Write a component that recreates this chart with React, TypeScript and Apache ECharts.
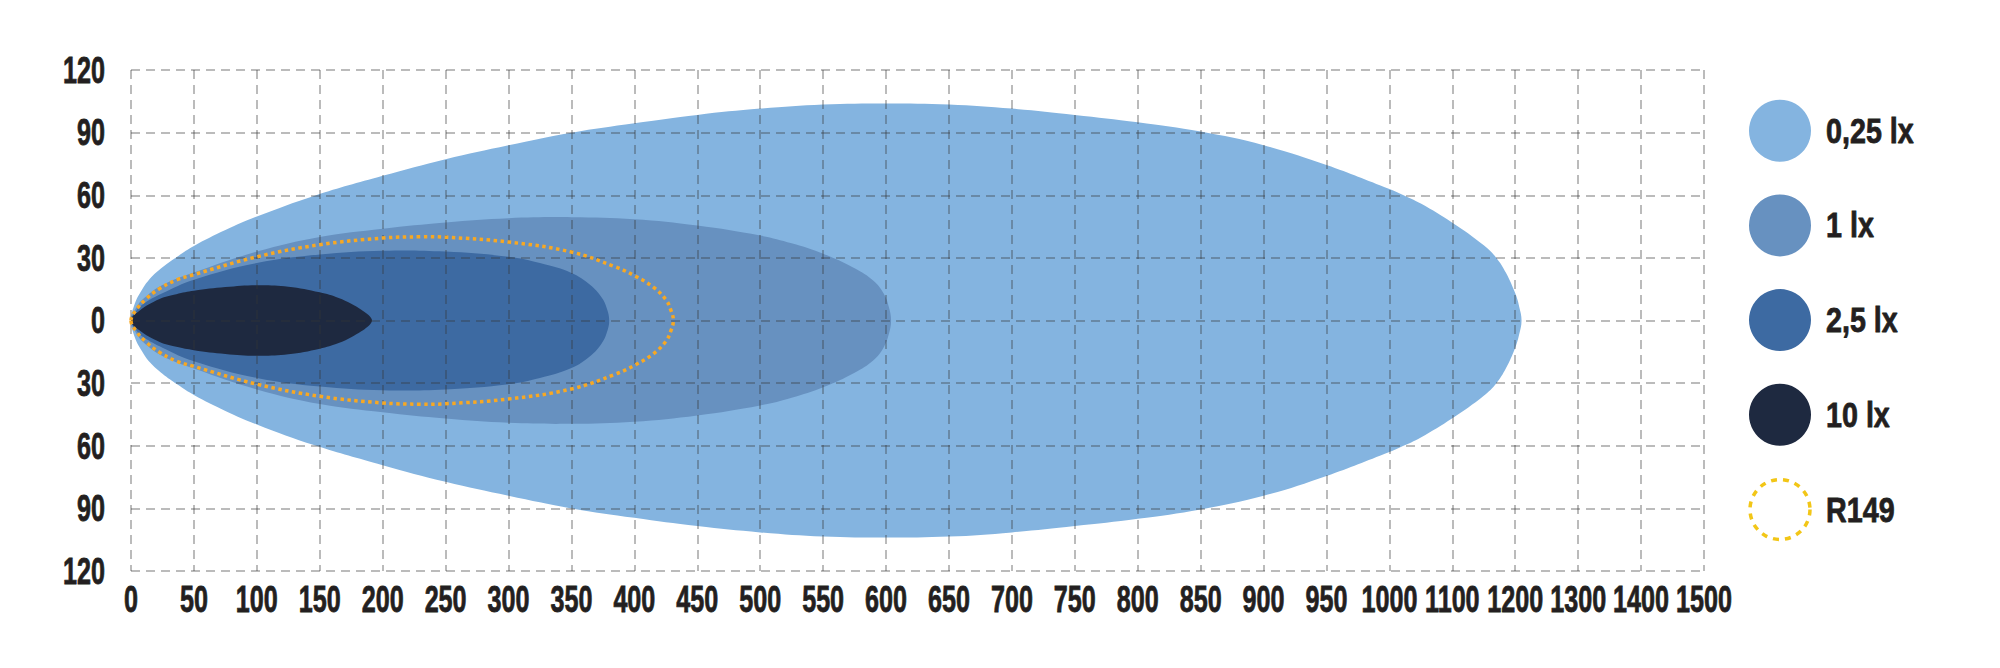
import React, { useEffect, useRef } from 'react';
import * as echarts from 'echarts';

// Axis tick labels (x axis is evenly spaced per label: 50 m steps up to 1000, then 100 m steps)
const xTickLabels = ['0', '50', '100', '150', '200', '250', '300', '350', '400', '450', '500', '550', '600', '650', '700', '750', '800', '850', '900', '950', '1000', '1100', '1200', '1300', '1400', '1500'];
const yTickValues = [120, 90, 60, 30, 0, -30, -60, -90, -120];
const yMin = -120;
const yMax = 120;
const yStep = 30;

const seriesNames = ['0,25 lx', '1 lx', '2,5 lx', '10 lx', 'R149'];

// Upper half outlines: [distance (m), lateral (m)]
const lx025Upper = [[0, 0], [3, 8], [8, 14], [15, 20], [25, 25.5], [37, 30.7], [50, 35.7], [75, 43.3], [100, 49.8], [146, 59.8], [200, 69.3], [250, 77.3], [300, 84], [350, 90], [400, 94.5], [450, 98.5], [500, 101.5], [550, 103.5], [600, 104], [650, 103.5], [700, 101.5], [750, 98.5], [800, 95], [850, 90.5], [900, 84], [950, 74.5], [1000, 63], [1019, 60.5], [1050, 56], [1100, 46.8], [1150, 36], [1170, 30], [1185, 23], [1200, 13], [1206, 7], [1210, 0]];
const lx1Upper = [[0, 0], [4, 6], [10, 10.5], [25, 17], [50, 23], [100, 33], [150, 40], [200, 44], [250, 47], [300, 49], [350, 49.5], [400, 48.5], [450, 45.5], [500, 40.7], [525, 37], [550, 32], [575, 25], [590, 19], [598, 13], [602, 7], [604, 0]];
const lx25Upper = [[0, 0], [4, 4.5], [10, 8], [25, 13], [50, 19.5], [100, 27.5], [150, 31.6], [200, 33.4], [250, 33], [300, 30.5], [325, 27.5], [350, 22.8], [365, 17], [374, 11], [378, 6], [380, 0]];
const lx10Upper = [[0, 0], [6.7, 4.7], [22.7, 10.3], [36, 12.6], [50, 14.2], [75, 16], [100, 16.9], [125, 16.2], [150, 13.5], [165, 10.8], [175, 8], [183, 5.2], [188, 3], [190.5, 1.4], [191.5, 0]];
const r149Upper = [[0, 0], [4, 5], [12, 10.3], [22, 15], [36, 19.4], [50, 22], [100, 30.5], [150, 36.3], [200, 39.5], [230, 40.1], [250, 39.9], [300, 37.6], [350, 32.8], [385, 25.7], [400, 21.5], [415, 16], [425, 10], [429, 5], [431, 0]];

const fillColors = ['#84B4E0', '#6791C0', '#3D6AA2', '#1E2940'];
const r149Color = '#F7A823';
const r149LegendColor = '#F2C617';
const textColor = '#231F20';
const FONT = '"Liberation Sans", Arial, sans-serif';

// map a distance in metres onto the evenly spaced label index of the x axis
function distToIdx(d: number): number {
  return d <= 1000 ? d / 50 : 20 + (d - 1000) / 100;
}

function closedOutline(upper: number[][]): number[][] {
  const top = upper.map(([d, w]) => [distToIdx(d), w]);
  const bottom = upper
    .slice(1, -1)
    .reverse()
    .map(([d, w]) => [distToIdx(d), -w]);
  return [...top, ...bottom];
}

function makeSeries(name: string, upper: number[][], style: any, color: string, z: number) {
  const data = closedOutline(upper);
  return {
    type: 'custom',
    name,
    z,
    data,
    encode: { x: 0, y: 1 },
    itemStyle: { color },
    silent: true,
    renderItem: (params: any, api: any) => {
      if (params.dataIndex !== 0) return null;
      const pts = data.map((p) => api.coord(p));
      return {
        type: 'polygon',
        shape: { points: pts, smooth: 0.4 },
        style,
      };
    },
  };
}

export default function App() {
  const ref = useRef<HTMLDivElement>(null);
  useEffect(() => {
    if (!ref.current) return;
    const chart = echarts.init(ref.current, undefined, { renderer: 'svg' });
    const splitLineStyle = { color: 'rgba(55,55,55,0.45)', width: 1.5, type: [9, 6] };
    const option: any = {
      animation: false,
      backgroundColor: '#ffffff',
      grid: { left: 131, right: 296, top: 70, bottom: 97, containLabel: false },
      xAxis: {
        type: 'value',
        min: 0,
        max: xTickLabels.length - 1,
        interval: 1,
        z: 5,
        axisLine: { show: false },
        axisTick: { show: false },
        axisLabel: { show: false },
        splitLine: { show: true, lineStyle: splitLineStyle },
      },
      yAxis: {
        type: 'value',
        min: yMin,
        max: yMax,
        interval: yStep,
        z: 5,
        axisLine: { show: false },
        axisTick: { show: false },
        axisLabel: { show: false },
        splitLine: { show: true, lineStyle: splitLineStyle },
      },
      series: [
        makeSeries(seriesNames[0], lx025Upper, { fill: fillColors[0] }, fillColors[0], 1),
        makeSeries(seriesNames[1], lx1Upper, { fill: fillColors[1] }, fillColors[1], 1),
        makeSeries(seriesNames[2], lx25Upper, { fill: fillColors[2] }, fillColors[2], 1),
        makeSeries(seriesNames[3], lx10Upper, { fill: fillColors[3] }, fillColors[3], 1),
        makeSeries(
          seriesNames[4],
          r149Upper,
          { fill: 'none', stroke: r149Color, lineWidth: 3.5, lineDash: [3.5, 3.5] },
          r149Color,
          6
        ),
      ],
    };
    chart.setOption(option);

    // condensed tick labels, placed through the axes' own scales
    const gridBottom = 668 - 97;
    const axisFont = {
      fontSize: 37,
      fontWeight: 'bold',
      fontFamily: FONT,
      fill: textColor,
      stroke: textColor,
      lineWidth: 0.8,
    };
    const graphics: any[] = [];
    xTickLabels.forEach((lab, i) => {
      const px = chart.convertToPixel({ xAxisIndex: 0 }, i) as number;
      graphics.push({
        type: 'text',
        x: px,
        y: gridBottom + 28,
        scaleX: 0.68,
        z: 10,
        style: { ...axisFont, text: lab, align: 'center', verticalAlign: 'middle' },
      });
    });
    yTickValues.forEach((v) => {
      const py = chart.convertToPixel({ yAxisIndex: 0 }, v) as number;
      graphics.push({
        type: 'text',
        x: 105,
        y: py,
        scaleX: 0.68,
        z: 10,
        style: { ...axisFont, text: String(Math.abs(v)), align: 'right', verticalAlign: 'middle' },
      });
    });

    // legend
    const legendColors = [...fillColors, null];
    const legendCx = 1780;
    const legendCy0 = 130.7;
    const legendStep = 94.7;
    seriesNames.forEach((name, i) => {
      const cy = legendCy0 + i * legendStep;
      const c = legendColors[i];
      graphics.push({
        type: 'circle',
        z: 10,
        shape: { cx: legendCx, cy, r: c ? 31 : 30 },
        style: c
          ? { fill: c }
          : { fill: 'none', stroke: r149LegendColor, lineWidth: 3.5, lineDash: [6, 6] },
      });
      graphics.push({
        type: 'text',
        x: 1826,
        y: cy,
        scaleX: 0.82,
        z: 10,
        style: {
          text: name,
          fontSize: 35,
          fontWeight: 'bold',
          fontFamily: FONT,
          fill: textColor,
          stroke: textColor,
          lineWidth: 0.8,
          align: 'left',
          verticalAlign: 'middle',
        },
      });
    });
    chart.setOption({ graphic: graphics });
    return () => chart.dispose();
  }, []);
  return (
    <div
      ref={ref}
      style={{ position: 'absolute', left: 0, top: 0, width: 2000, height: 668, background: '#fff' }}
    />
  );
}
